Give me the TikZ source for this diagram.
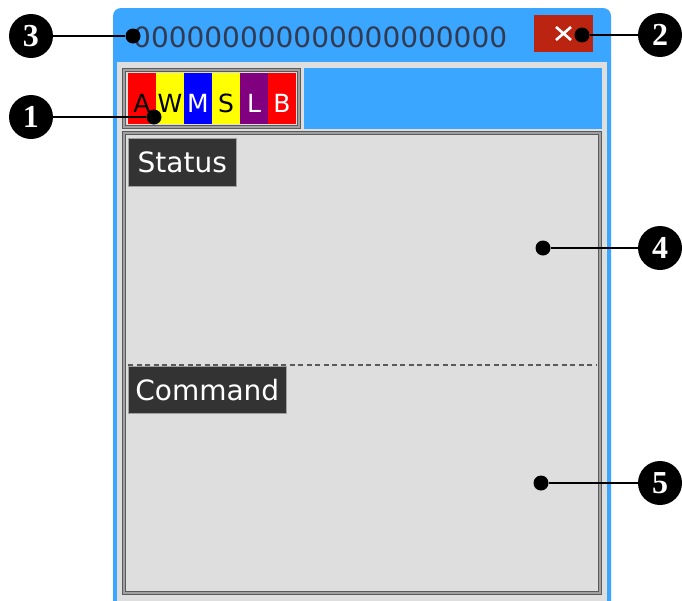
\documentclass[tikz,border=0pt]{standalone}
\usepackage{fontspec}
\setmainfont{DejaVu Sans}
\newfontfamily\numfont{Liberation Serif}
\definecolor{winblue}{RGB}{58,166,255}
\definecolor{panelgray}{RGB}{222,222,222}
\definecolor{framedark}{RGB}{90,90,90}
\definecolor{framelight}{RGB}{160,160,160}
\definecolor{tagdark}{RGB}{51,51,51}
\definecolor{closered}{RGB}{186,36,16}
\definecolor{titleink}{RGB}{50,58,82}
\definecolor{cellred}{RGB}{255,0,0}
\definecolor{cellyellow}{RGB}{255,255,0}
\definecolor{cellblue}{RGB}{0,0,255}
\definecolor{cellpurple}{RGB}{128,0,128}
\begin{document}
\begin{tikzpicture}[x=1pt,y=-1pt,
        callout/.style={circle, fill=black, text=white, inner sep=0pt, minimum size=44pt, font=\numfont\bfseries\fontsize{32}{32}\selectfont},
        dotmark/.style={circle, fill=black, inner sep=0pt, minimum size=15pt},
        labelbox/.style={fill=tagdark, text=white, draw=framelight, line width=0.6pt, inner sep=0pt, anchor=north west, font=\fontsize{28}{28}\selectfont},
        panelframe/.style={draw=framedark, double=framelight, double distance=1.6pt, line width=1.2pt},
        leadline/.style={line width=2.7pt}]
        \useasboundingbox (0,0) rectangle (682,600);
        \fill [winblue, rounded corners=8pt] (113,8) rectangle (611,640);
        \fill [panelgray] (117,62) rectangle (607,640);
        \fill [winblue] (304,68) rectangle (602,129);
        \node [anchor=west, text=titleink, inner sep=0pt, font=\fontsize{28}{28}\selectfont] (title) at (133,37) {000000000000000000000};
        \node [fill=closered, minimum width=59pt, minimum height=37pt, inner sep=0pt] (close) at (563.5,33.5) {};
        \draw [white, line width=2.6pt] (556,27) -- (571,40) (556,40) -- (571,27);
        \draw [panelframe, fill=panelgray] (124,70) rectangle (299,127);
        \foreach \fillc/\ltr/\ink [count=\i from 0] in {cellred/A/black, cellyellow/W/black, cellblue/M/white, cellyellow/S/black, cellpurple/L/white, cellred/B/white}{
          \fill [\fillc] (128+28*\i,73) rectangle (156+28*\i,124);
          \node [text=\ink, anchor=base, inner sep=0pt, font=\fontsize{25}{25}\selectfont] (cell\ltr) at (142+28*\i,112) {\ltr};
        }
        \draw [panelframe, fill=panelgray] (124,133) rectangle (600,593);
        \node [labelbox, minimum width=108pt, minimum height=48pt] (status) at (128,138) {Status};
        \draw [dashed, dash pattern=on 5pt off 3.5pt, color=framedark, line width=1.2pt] (128,365) -- (596,365);
        \node [labelbox, minimum width=158pt, minimum height=47pt] (command) at (128,366) {Command};
        \node [callout] (c3) at (31,36) {3};
        \node [dotmark] (d3) at (133,36) {};
        \node [callout] (c1) at (31,117) {1};
        \node [dotmark] (d1) at (154,117) {};
        \node [callout] (c2) at (660,35) {2};
        \node [dotmark] (d2) at (582,35) {};
        \node [callout] (c4) at (660,248) {4};
        \node [dotmark] (d4) at (543,248) {};
        \node [callout] (c5) at (660,483) {5};
        \node [dotmark] (d5) at (541,483) {};
        \foreach \n in {1,...,5}{
          \draw [leadline] (c\n) -- (d\n);
        }
      \end{tikzpicture}
\end{document}
